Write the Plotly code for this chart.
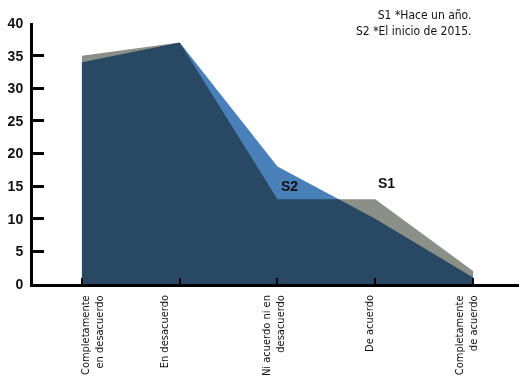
import plotly.graph_objects as go

categories = ["Completamente<br>en desacuerdo", "En desacuerdo",
              "Ni acuerdo ni en<br>desacuerdo", "De acuerdo",
              "Completamente<br>de acuerdo"]
s1_values = [35, 37, 13, 13, 2]   # S1 *Hace un año.
s2_values = [34, 37, 18, 10, 1]   # S2 *El inicio de 2015.
y_ticks = [0, 5, 10, 15, 20, 25, 30, 35, 40]

GRAY = "#8a9087"
BLUE = "#4a80ba"
NARROW = "Liberation Sans Narrow, DejaVu Sans Condensed, Roboto, sans-serif"
BOLD = "Liberation Sans, Arial, sans-serif"
LABEL_SHIFT = [10, -15, -4, -6, -7]   # label offsets (px) as in the original

fig = go.Figure()
fig.add_trace(go.Scatter(x=categories, y=s1_values, mode="lines", name="S1",
                         fill="tozeroy", fillcolor=GRAY,
                         line=dict(width=0, color=GRAY), hoverinfo="skip"))
fig.add_trace(go.Scatter(x=categories, y=s2_values, mode="lines", name="S2",
                         fill="tozeroy", fillcolor=BLUE,
                         line=dict(width=0, color=BLUE), hoverinfo="skip"))

for cat, dx in zip(categories, LABEL_SHIFT):
    fig.add_annotation(x=cat, y=-0.035, xref="x", yref="paper",
                       xshift=dx, textangle=-90, align="right",
                       xanchor="center", yanchor="top", showarrow=False,
                       text=cat, font=dict(family=NARROW, size=11, color="#111"))

fig.add_annotation(x=2.12, y=15.0, xref="x", yref="y", text="<b>S2</b>",
                   showarrow=False, font=dict(family=BOLD, size=14, color="#111"))
fig.add_annotation(x=3.12, y=15.5, xref="x", yref="y", text="<b>S1</b>",
                   showarrow=False, font=dict(family=BOLD, size=14, color="#111"))
fig.add_annotation(x=0.905, y=1.0, xref="paper", yref="paper",
                   xanchor="right", yanchor="middle", align="right",
                   text="S1 *Hace un año.<br>S2 *El inicio de 2015.",
                   showarrow=False, font=dict(family=NARROW, size=12, color="#111"))

fig.update_layout(
    width=519, height=381,
    margin=dict(l=33, r=0, t=23, b=97, autoexpand=False),
    paper_bgcolor="white", plot_bgcolor="white",
    showlegend=False,
    xaxis=dict(type="category", range=[-0.5, 4.47], automargin=False,
               showgrid=False, zeroline=False, showticklabels=False,
               showline=True, linecolor="black", linewidth=3,
               ticks="inside", ticklen=6, tickwidth=2, tickcolor="black"),
    yaxis=dict(range=[0, 40], tickvals=y_ticks, automargin=False,
               showgrid=False, zeroline=False,
               showline=True, linecolor="black", linewidth=3,
               ticks="inside", ticklen=11, tickwidth=3, tickcolor="black",
               ticklabelstandoff=4,
               tickfont=dict(family=BOLD, size=14, color="#111", weight="bold")),
)

post = ("document.body.style.margin='0';"
        "document.querySelectorAll('.js-fill').forEach(function(p){"
        "p.style.mixBlendMode='multiply';});")
fig.write_html("out.html", post_script=post, config={"displayModeBar": False})
